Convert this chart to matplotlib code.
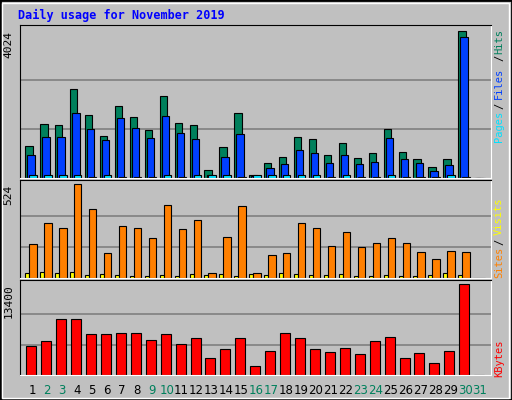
import numpy as np
import matplotlib
matplotlib.use('Agg')
from matplotlib import pyplot as plt
from matplotlib.patches import Rectangle

days = np.arange(1, 32)
hits = [869, 1472, 1445, 2433, 1719, 1143, 1966, 1664, 1308, 2240, 1500, 1445, 210, 841, 1774,
        73, 402, 567, 1116, 1061, 622, 951, 540, 677, 1335, 704, 512, 293, 512, 4024, 0]
files = [622, 1116, 1116, 1774, 1335, 1033, 1637, 1363, 1088, 1692, 1225, 1061, 73, 567, 1198,
         55, 265, 375, 759, 677, 402, 622, 375, 430, 1088, 512, 402, 183, 347, 3868, 0]
pages = [70, 70, 70, 70, 15, 70, 15, 15, 15, 70, 15, 70, 70, 70, 15,
         70, 70, 70, 70, 70, 15, 70, 15, 15, 70, 15, 15, 15, 70, 15, 0]
sites = [192, 307, 278, 524, 387, 141, 290, 278, 221, 410, 272, 324, 27, 232, 404,
         27, 130, 141, 307, 278, 181, 255, 175, 198, 221, 198, 147, 107, 152, 147, 0]
visits = [27, 32, 27, 32, 15, 21, 15, 10, 10, 15, 10, 21, 15, 21, 10,
          21, 15, 27, 21, 15, 15, 21, 10, 10, 15, 10, 10, 15, 27, 15, 0]
kbytes = [4270, 5006, 8245, 8245, 6037, 6037, 6184, 6184, 5153, 6037, 4564, 5448, 2503, 3828, 5448,
          1325, 3534, 6184, 5448, 3828, 3387, 3975, 3092, 5006, 5595, 2503, 3239, 1767, 3534, 13400, 0]
weekend = [2, 3, 9, 10, 16, 17, 23, 24, 30, 31]

bg = '#C0C0C0'
mono = 'DejaVu Sans Mono'
W, H = 512, 400

fig = plt.figure(figsize=(5.12, 4.0), dpi=100, facecolor=bg)

# bevelled outer frame
fig.patches.append(Rectangle((0, 0), 1, 1, transform=fig.transFigure, fill=False, edgecolor='black', lw=2))
fig.patches.append(Rectangle((2/W, 2/H), 1-5/W, 1-5/H, transform=fig.transFigure, fill=False, edgecolor='white', lw=1))

def panel(top, bottom, ymax_val, ymax_px):
    ax = fig.add_axes([20/W, 1-bottom/H, 471/W, (bottom-top)/H], facecolor=bg)
    ax.set_xlim(0.129, 31.68)
    span = bottom - top
    ax.set_ylim(0, ymax_val*span/ymax_px)
    for f in (1/3, 2/3):
        ax.axhline(ymax_val*f, color='#808080', lw=1.2, zorder=0)
    ax.set_xticks([]); ax.set_yticks([])
    ax.spines['top'].set_color('black'); ax.spines['left'].set_color('black')
    ax.spines['bottom'].set_color('white'); ax.spines['right'].set_color('white')
    ax.text(-0.025, ymax_val, str(ymax_val), transform=ax.get_yaxis_transform(),
            rotation=90, ha='center', va='top', fontsize=8, family=mono)
    return ax

ax1 = panel(25, 178, 4024, 146.7)
ax1.bar(days-0.27, hits, 0.49, color='#00805C', edgecolor='black', lw=0.8)
ax1.bar(days-0.13, files, 0.49, color='#0040FF', edgecolor='black', lw=0.8)
ax1.bar(days, pages, 0.49, color='#00E0FF', edgecolor='black', lw=0.8)

ax2 = panel(180, 278, 524, 93.7)
ax2.bar(days-0.38, visits, 0.27, color='#FFFF00', edgecolor='black', lw=0.8)
ax2.bar(days, sites, 0.49, color='#FF8000', edgecolor='black', lw=0.8)

ax3 = panel(280, 375, 13400, 91)
ax3.bar(days-0.11, kbytes, 0.67, color='#FF0000', edgecolor='black', lw=0.8)

for d in days:
    ax3.text(d-0.05, -0.09, str(d), transform=ax3.get_xaxis_transform(), ha='center', va='top',
             fontsize=8.5, family='DejaVu Sans', color='#00805C' if d in weekend else 'black')

fig.text(18/W, 1-15/H, 'Daily usage for November 2019', color='#0000FF', fontsize=8.5,
         fontweight='bold', family=mono, va='center')

def side(txt, y, col):
    fig.text(499/W, 1-y/H, txt, color=col, rotation=90, ha='center', va='center', fontsize=7.5, family=mono)

side('Hits', 41, '#00805C'); side('/', 58, 'black'); side('Files', 83, '#0040FF')
side('/', 106, 'black'); side('Pages', 126, '#00E0FF')
side('Visits', 216, '#FFFF00'); side('/', 242, 'black'); side('Sites', 262, '#FF8000')
side('KBytes', 358, '#FF0000')

fig.savefig('out.png', dpi=100, facecolor=bg)
